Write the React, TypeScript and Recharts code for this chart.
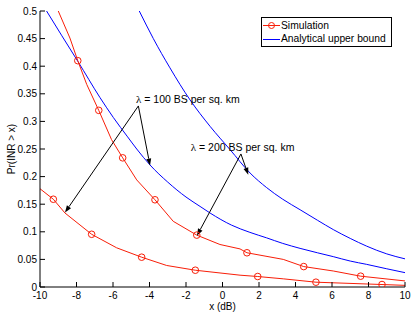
import React from 'react';
import {
  ComposedChart, Line, XAxis, YAxis, ReferenceLine, ReferenceDot
} from 'recharts';

const RED = '#f81e08';
const BLUE = '#0000ff';
const FONT = '"Liberation Sans", Arial, Helvetica, sans-serif';

const xTicks = [-10, -8, -6, -4, -2, 0, 2, 4, 6, 8, 10];
const yTicks = [0, 0.05, 0.1, 0.15, 0.2, 0.25, 0.3, 0.35, 0.4, 0.45, 0.5];

// simulation, lambda = 100 BS per sq. km  [x (dB), Pr]
const sim100 = [
  [-10, 0.178], [-9.27, 0.159], [-8.63, 0.134], [-7.17, 0.0955], [-5.8, 0.071],
  [-4.43, 0.054], [-3.06, 0.039], [-1.49, 0.0304], [0.96, 0.0214], [1.93, 0.019],
  [3.33, 0.0148], [5.12, 0.0087], [8.74, 0.0045], [10, 0.003],
];
const sim100Marks = [
  [-9.27, 0.159], [-7.17, 0.0955], [-4.43, 0.054], [-1.49, 0.0304],
  [1.93, 0.019], [5.12, 0.0087], [8.74, 0.0045],
];

// simulation, lambda = 200 BS per sq. km
const sim200 = [
  [-9.0, 0.5], [-8.36, 0.451], [-7.93, 0.41], [-7.44, 0.367], [-6.78, 0.32],
  [-6.08, 0.267], [-5.47, 0.234], [-4.7, 0.194], [-3.7, 0.158], [-2.7, 0.119],
  [-1.41, 0.094], [-0.14, 0.077], [0.96, 0.069], [1.34, 0.062], [3.33, 0.05],
  [4.45, 0.037], [6.07, 0.029], [7.57, 0.0196], [10, 0.011],
];
const sim200Marks = [
  [-7.93, 0.41], [-6.78, 0.32], [-5.47, 0.234], [-3.7, 0.158],
  [-1.41, 0.094], [1.34, 0.062], [4.45, 0.037], [7.57, 0.0196],
];

// analytical upper bounds
const bound100 = [
  [-9.64, 0.5], [-8.8, 0.455], [-7.93, 0.409], [-6.71, 0.343], [-5.98, 0.307],
  [-5.2, 0.272], [-4.7, 0.25], [-3.97, 0.221], [-3.0, 0.19], [-2.0, 0.163],
  [-1.23, 0.146], [-0.68, 0.134], [0.5, 0.112], [1.5, 0.099], [2.42, 0.089],
  [3.3, 0.079], [4.25, 0.07], [5.2, 0.062], [6.07, 0.055], [7.0, 0.047],
  [7.9, 0.041], [9.0, 0.033], [10, 0.026],
];
const bound200 = [
  [-4.56, 0.5], [-3.79, 0.45], [-2.88, 0.397], [-1.78, 0.339], [-0.68, 0.291],
  [0.41, 0.249], [1.51, 0.2065], [2.42, 0.18], [3.3, 0.159], [4.25, 0.14],
  [5.2, 0.121], [6.07, 0.104], [7.0, 0.088], [7.9, 0.074], [9.0, 0.06], [10, 0.051],
];

// annotations: label anchor, arrow apex, arrow tips (data coords)
const notes = [
  { text: '= 100 BS per sq. km', at: [-4.74, 0.333], apex: [-4.61, 0.328], tips: [[-8.63, 0.135], [-3.97, 0.22]] },
  { text: '= 200 BS per sq. km', at: [-1.74, 0.247], apex: [1.01, 0.241], tips: [[1.41, 0.2034], [-1.4, 0.093]] },
];

const toPts = (a: number[][]) => a.map(([x, y]) => ({ x, y }));

const Arrow = (p: any) => {
  const { x1, y1, x2, y2 } = p;
  const ang = Math.atan2(y2 - y1, x2 - x1);
  const len = 7, half = 2.5;
  const bx = x2 - len * Math.cos(ang), by = y2 - len * Math.sin(ang);
  const nx = -Math.sin(ang) * half, ny = Math.cos(ang) * half;
  return (
    <g>
      <line x1={x1} y1={y1} x2={bx} y2={by} stroke="#000" strokeWidth={1} />
      <polygon points={`${x2},${y2} ${bx + nx},${by + ny} ${bx - nx},${by - ny}`} fill="#000" />
    </g>
  );
};

const noteLabel = (text: string) => (p: any) => (
  <text x={p.cx} y={p.cy} fontSize={10.5} fontFamily={FONT} fill="#000">
    <tspan fontFamily='"Liberation Serif", "Times New Roman", serif' fontSize={11}>λ</tspan>
    <tspan> {text}</tspan>
  </text>
);

const LegendBox = () => (
  <div style={{
    position: 'absolute', left: 261, top: 17,
    border: '1px solid #000', background: '#fff', width: 129, height: 27,
    fontFamily: FONT, fontSize: 10.3, lineHeight: '14px', paddingTop: 1,
  }}>
    <div style={{ display: 'flex', alignItems: 'center', height: 13 }}>
      <svg width={19} height={13}>
        <line x1={1} y1={6.5} x2={18} y2={6.5} stroke={RED} />
        <circle cx={9.5} cy={6.5} r={3} stroke={RED} fill="none" />
      </svg>
      <span>Simulation</span>
    </div>
    <div style={{ display: 'flex', alignItems: 'center', height: 14 }}>
      <svg width={19} height={13}>
        <line x1={1} y1={6.5} x2={18} y2={6.5} stroke={BLUE} />
      </svg>
      <span>Analytical upper bound</span>
    </div>
  </div>
);

const TICK = 5;       // inward tick length
const MARGIN_B = 5;   // gap axis -> x labels
const MARGIN_L = 3;   // gap axis -> y labels

// tick renderers draw the inward MATLAB-style tick mark and the label
const BottomTick = (p: any) => (
  <g>
    <line x1={p.x} x2={p.x} y1={p.y - MARGIN_B} y2={p.y - MARGIN_B - TICK} stroke="#000" />
    <text x={p.x} y={p.y} dy="0.71em" textAnchor="middle" fontSize={10} fontFamily={FONT} fill="#000">
      {p.payload.value}
    </text>
  </g>
);
const LeftTick = (p: any) => (
  <g>
    <line x1={p.x + MARGIN_L} x2={p.x + MARGIN_L + TICK} y1={p.y} y2={p.y} stroke="#000" />
    <text x={p.x} y={p.y} dy="0.355em" textAnchor="end" fontSize={10} fontFamily={FONT} fill="#000">
      {p.payload.value}
    </text>
  </g>
);
const TopTick = (p: any) => (
  <line x1={p.x} x2={p.x} y1={p.y} y2={p.y + TICK} stroke="#000" />
);
const RightTick = (p: any) => (
  <line x1={p.x} x2={p.x - TICK} y1={p.y} y2={p.y} stroke="#000" />
);

const axisStroke = { stroke: '#000' };

export default function App() {
  return (
    <div style={{ position: 'absolute', left: 0, top: 0, width: 415, height: 321, background: '#fff' }}>
      <ComposedChart width={415} height={321} margin={{ top: 11, right: 10, bottom: 0, left: 0 }}>
        <XAxis
          dataKey="x" type="number" domain={[-10, 10]} ticks={xTicks} allowDataOverflow
          height={34} tickSize={0} tickLine={false} tickMargin={MARGIN_B} tick={BottomTick}
          stroke="#000" axisLine={axisStroke} interval={0}
          label={(p: any) => (
            <text x={p.viewBox.x + p.viewBox.width / 2} y={p.viewBox.y + 22.5}
              textAnchor="middle" fontSize={10} fontFamily={FONT} fill="#000">x (dB)</text>
          )}
        />
        <XAxis
          xAxisId="top" orientation="top" dataKey="x" type="number" domain={[-10, 10]} ticks={xTicks}
          allowDataOverflow height={0} tickSize={0} tickMargin={0} tickLine={false} tick={TopTick}
          stroke="#000" axisLine={axisStroke} interval={0}
        />
        <YAxis
          dataKey="y" type="number" domain={[0, 0.5]} ticks={yTicks} allowDataOverflow
          width={40} tickSize={0} tickLine={false} tickMargin={MARGIN_L} tick={LeftTick}
          stroke="#000" axisLine={axisStroke} interval={0}
          label={(p: any) => {
            const cy = p.viewBox.y + p.viewBox.height / 2;
            return (
              <text x={15.3} y={cy} transform={`rotate(-90, 15.3, ${cy})`}
                textAnchor="middle" fontSize={10} fontFamily={FONT} fill="#000">Pr(INR &gt; x)</text>
            );
          }}
        />
        <YAxis
          yAxisId="right" orientation="right" dataKey="y" type="number" domain={[0, 0.5]} ticks={yTicks}
          allowDataOverflow width={0} tickSize={0} tickMargin={0} tickLine={false} tick={RightTick}
          stroke="#000" axisLine={axisStroke} interval={0}
        />
        <Line xAxisId="top" yAxisId="right" data={toPts(bound200)} dataKey="y" type="monotone" stroke={BLUE} strokeWidth={1} dot={false} isAnimationActive={false} />
        <Line data={toPts(bound100)} dataKey="y" type="monotone" stroke={BLUE} strokeWidth={1} dot={false} isAnimationActive={false} />
        <Line data={toPts(sim200)} dataKey="y" type="linear" stroke={RED} strokeWidth={1} dot={false} isAnimationActive={false} />
        <Line data={toPts(sim100)} dataKey="y" type="linear" stroke={RED} strokeWidth={1} dot={false} isAnimationActive={false} />
        <Line data={toPts(sim200Marks)} dataKey="y" stroke="none" dot={{ r: 3.3, stroke: RED, fill: 'none', strokeWidth: 1 }} isAnimationActive={false} />
        <Line data={toPts(sim100Marks)} dataKey="y" stroke="none" dot={{ r: 3.3, stroke: RED, fill: 'none', strokeWidth: 1 }} isAnimationActive={false} />
        {notes.map((n, i) =>
          n.tips.map((t, j) => (
            <ReferenceLine key={`a${i}-${j}`} segment={[{ x: n.apex[0], y: n.apex[1] }, { x: t[0], y: t[1] }]} shape={Arrow} />
          ))
        )}
        {notes.map((n, i) => (
          <ReferenceDot key={`t${i}`} x={n.at[0]} y={n.at[1]} r={1} shape={noteLabel(n.text)} />
        ))}
      </ComposedChart>
      <LegendBox />
    </div>
  );
}
